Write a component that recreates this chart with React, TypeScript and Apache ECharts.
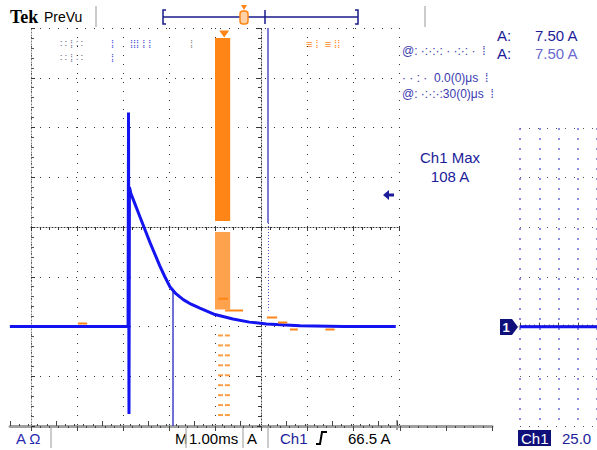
import React, { useEffect, useRef } from "react";
import * as echarts from "echarts";

// Ch1 current waveform (time in ms from left graticule edge, current in A)
const timeMs = [-0.46, 0.5, 1.0, 1.5, 2.11, 2.12, 2.13, 2.14, 2.17, 2.27, 2.37, 2.48, 2.59, 2.7, 2.8, 2.91, 3.02, 3.15, 3.31, 3.48, 3.67, 4.0, 4.39, 4.75, 5.12, 5.85, 6.8, 7.93];
const currentA = [0, 0, 0, 0, 0, 107.5, -44, 70, 67, 61, 55, 48.5, 42, 36, 30.5, 25, 20, 16.5, 13.5, 11.2, 9.2, 6, 3.8, 2.2, 1.3, 0.4, 0, 0];

// right-hand fragment of the trace
const rightT = [0, 4];
const rightA = [0, 0];

// orange glitch band (ms, A)
const bandT = [4.0, 4.33];
const bandUpperA = [145, 53];
const bandLowerA = [47.5, 8.5];
const orangeDashT = [4.12, 4.27];
const orangeDashA = [-4.5, -9.5, -14.5, -19.5, -24.5, -29.5, -34.5, -39.5, -44.5];
const orangeSegStart = [1.02, 4.07, 4.22, 5.13, 5.37, 5.63, 6.4];
const orangeSegEnd = [1.22, 4.28, 4.61, 5.35, 5.57, 5.8, 6.6];
const orangeSegA = [1.5, 14, 8, 4.5, 2, -1.5, -1.5];

// cursor lines (ms)
const cursorT = [5.15, 3.09];

const readouts = {
  deltaLabel: "A:",
  deltaValue: "7.50 A",
  maxTitle: "Ch1 Max",
  maxValue: "108 A",
  timebase: "1.00ms",
  trigLevel: "66.5 A",
  ch1Scale: "25.0",
};

const NAVY = "#1c1c9a";
const BLUE = "#1414f0";
const ORANGE = "#ff8616";
const DOT = [1, 8];

export default function App() {
  const ref = useRef<HTMLDivElement>(null);
  useEffect(() => {
    if (!ref.current) return;
    const chart = echarts.init(ref.current, null, { renderer: "svg" });
    const wave = timeMs.map((t, i) => [t, currentA[i]]);
    const dashPts: number[][] = [];
    orangeDashT.forEach((t) => orangeDashA.forEach((a) => dashPts.push([t, a])));
    const segPts: any[] = [];
    orangeSegStart.forEach((t, i) => {
      segPts.push([t, orangeSegA[i]], [orangeSegEnd[i], orangeSegA[i]], null);
    });
    const sans = '"Liberation Sans", Arial, sans-serif';
    const txt = (x: number, y: number, text: string, fill: string, size = 15, extra: any = {}) => ({
      type: "text",
      x,
      y,
      style: { text, fill, font: `${size}px ${sans}`, align: "left", verticalAlign: "top", ...extra },
    });
    const vline = (x: number, y1: number, y2: number, stroke = "#bbbbbb", w = 1.5) => ({
      type: "line",
      shape: { x1: x, y1, x2: x, y2 },
      style: { stroke, lineWidth: w },
    });

    const graphic: any[] = [
      { type: "text", x: 10, y: 8, style: { text: "Tek", fill: "#000", font: 'bold 18px "Liberation Serif", serif', align: "left", verticalAlign: "top" } },
      txt(44, 10, "PreVu", "#000", 14),
      vline(96, 6, 27),
      { type: "line", shape: { x1: 163, y1: 17, x2: 358, y2: 17 }, style: { stroke: "#1a1a8a", lineWidth: 1.5 } },
      { type: "polyline", shape: { points: [[166, 10], [163, 10], [163, 24], [166, 24]] }, style: { stroke: "#1a1a8a", lineWidth: 1.5, fill: "none" } },
      { type: "polyline", shape: { points: [[355, 10], [358, 10], [358, 24], [355, 24]] }, style: { stroke: "#1a1a8a", lineWidth: 1.5, fill: "none" } },
      vline(265, 10, 24, "#1a1a8a", 1.5),
      { type: "rect", shape: { x: 240, y: 11, width: 8, height: 13, r: 3 }, style: { fill: "#ffd2a6", stroke: ORANGE, lineWidth: 1.5 } },
      { type: "polygon", shape: { points: [[241, 5], [247, 5], [244, 10]] }, style: { fill: ORANGE } },
      vline(425, 6, 27),
      // glitch speckles upper-left
      txt(60, 38, "∷ ⁞ ∷", "#7a7a9a", 11),
      txt(111, 38, "⁞", "#4a4ad0", 11),
      txt(130, 38, "⁞⁞⁞ ⁞ ⁞", "#4a4ad0", 11),
      txt(190, 38, "⁞", "#888", 11),
      txt(60, 52, "∷ ⁞ ∷", "#7a7a9a", 11),
      txt(111, 52, "⁞", "#4a4ad0", 11),
      txt(306, 38, "≡ ⁞  ≡ ⁞⁞", ORANGE, 11),
      // readouts
      txt(497, 28, readouts.deltaLabel, NAVY, 15),
      txt(535, 28, readouts.deltaValue, NAVY, 15),
      txt(497, 46, readouts.deltaLabel, NAVY, 15),
      txt(535, 46, readouts.deltaValue, "#6a6ad0", 15),
      txt(402, 45, "@: ·:·:·: · ·:·: ·  ⁞", "#3a3ab0", 12),
      txt(402, 72, "· · : ·  0.0(0)μs  ⁞", "#3a3ab0", 12),
      txt(402, 88, "@: ·:·:·:30(0)μs  ⁞", "#3a3ab0", 12),
      { type: "text", x: 450, y: 150, style: { text: readouts.maxTitle, fill: NAVY, font: `15px ${sans}`, align: "center", verticalAlign: "top" } },
      { type: "text", x: 450, y: 169, style: { text: readouts.maxValue, fill: NAVY, font: `15px ${sans}`, align: "center", verticalAlign: "top" } },
      { type: "polygon", shape: { points: [[383, 195], [389, 190], [389, 193.5], [394, 193.5], [394, 196.5], [389, 196.5], [389, 200]] }, style: { fill: NAVY } },
      // channel 1 ground marker
      { type: "polygon", shape: { points: [[500, 319], [512, 319], [518, 327], [512, 335], [500, 335]] }, style: { fill: "#10107a" } },
      { type: "text", x: 506, y: 327, style: { text: "1", fill: "#fff", font: `bold 13px ${sans}`, align: "center", verticalAlign: "middle" } },
      // bottom status bar
      txt(16, 431, "A Ω", "#2a2ab0", 15),
      vline(51, 428, 448),
      txt(175, 431, "M", "#000", 15),
      vline(186, 428, 448),
      txt(189, 431, readouts.timebase, "#000", 15),
      vline(243, 428, 448),
      txt(247, 431, "A", "#000", 15),
      vline(268, 428, 448),
      txt(280, 431, "Ch1", NAVY, 15),
      { type: "polyline", shape: { points: [[316, 444], [320, 444], [322, 432], [327, 432]] }, style: { stroke: "#000", lineWidth: 2, fill: "none" } },
      txt(348, 431, readouts.trigLevel, "#000", 15),
      vline(397, 420, 430, "#444", 1),
      { type: "rect", shape: { x: 518, y: 430, width: 33, height: 16 }, style: { fill: "#10107a" } },
      txt(521, 431, "Ch1", "#fff", 15),
      txt(562, 431, readouts.ch1Scale, NAVY, 15),
    ];

    const hiddenY = (gi: number) => ({ gridIndex: gi, type: "value", min: 0, max: 1, show: false });

    chart.setOption({
      animation: false,
      backgroundColor: "#ffffff",
      grid: [
        { left: 31, top: 28, width: 368, height: 398 },
        { left: 31, top: 28, width: 461, height: 398 },
        { left: 10, top: 28, width: 387, height: 398 },
        { left: 520, top: 128, width: 77, height: 298 },
        { left: 8, top: 28, width: 391, height: 398 },
      ],
      xAxis: [
        {
          gridIndex: 0, type: "value", min: 0, max: 8, interval: 1,
          axisLine: { show: false }, axisTick: { show: false }, axisLabel: { show: false },
          splitLine: { show: true, lineStyle: { color: "#333", type: DOT, width: 1 } },
        },
        {
          gridIndex: 0, type: "value", min: 0, max: 8, interval: 1, position: "bottom", offset: -199,
          axisLine: { show: true, onZero: false, lineStyle: { color: "#333", type: [1, 2], width: 1 } },
          axisTick: { show: true, length: 4, lineStyle: { color: "#333" } },
          minorTick: { show: true, splitNumber: 5, length: 3, lineStyle: { color: "#333" } },
          axisLabel: { show: false }, splitLine: { show: false },
        },
        {
          gridIndex: 1, type: "value", min: 0, max: 10, interval: 1, position: "top",
          axisLine: { show: true, lineStyle: { color: "#a0a0a0", width: 3 } },
          axisTick: { show: true, inside: true, length: 5, lineStyle: { color: "#444" } },
          minorTick: { show: true, splitNumber: 5, length: 2, lineStyle: { color: "#444" } },
          axisLabel: { show: false }, splitLine: { show: false },
        },
        {
          gridIndex: 2, type: "value", min: 0, max: 8.4, interval: 1, position: "bottom",
          axisLine: { show: true, lineStyle: { color: "#a0a0a0", width: 3 } },
          axisTick: { show: true, inside: true, length: 5, lineStyle: { color: "#444" } },
          minorTick: { show: true, splitNumber: 5, length: 2, lineStyle: { color: "#444" } },
          axisLabel: { show: false }, splitLine: { show: false },
        },
        {
          gridIndex: 3, type: "value", min: 0, max: 4, interval: 1, position: "bottom",
          axisLine: { show: true, lineStyle: { color: "#a0a0a0", width: 3 } },
          axisTick: { show: true, inside: true, length: 4, lineStyle: { color: "#444" } },
          minorTick: { show: true, splitNumber: 4, length: 2, lineStyle: { color: "#444" } },
          axisLabel: { show: false },
          splitLine: { show: true, lineStyle: { color: "#6a6ad8", type: [2, 8], width: 1.5 } },
        },
        { gridIndex: 4, type: "value", min: -0.5, max: 8, show: false },
      ],
      yAxis: [
        {
          gridIndex: 0, type: "value", min: -50, max: 150, interval: 25,
          axisLine: { show: true, lineStyle: { color: "#777", type: [1, 2], width: 1 } },
          axisTick: { show: true, inside: true, length: 4, lineStyle: { color: "#333" } },
          minorTick: { show: true, splitNumber: 5, length: 3, lineStyle: { color: "#555" } },
          axisLabel: { show: false },
          splitLine: { show: true, lineStyle: { color: "#333", type: DOT, width: 1 } },
        },
        {
          gridIndex: 0, type: "value", min: -50, max: 150, interval: 25, position: "left", offset: -230,
          axisLine: { show: true, onZero: false, lineStyle: { color: "#444", type: [1, 2], width: 1 } },
          axisTick: { show: true, length: 4, lineStyle: { color: "#333" } },
          minorTick: { show: true, splitNumber: 5, length: 3, lineStyle: { color: "#333" } },
          axisLabel: { show: false }, splitLine: { show: false },
        },
        hiddenY(1),
        hiddenY(2),
        {
          gridIndex: 3, type: "value", min: -50, max: 100, interval: 25,
          axisLine: { show: false }, axisTick: { show: false }, axisLabel: { show: false },
          splitLine: { show: true, lineStyle: { color: "#555", type: DOT, width: 1 } },
        },
        { gridIndex: 4, type: "value", min: -50, max: 150, show: false },
      ],
      series: [
        {
          name: "Ch1",
          type: "line",
          xAxisIndex: 5,
          yAxisIndex: 5,
          data: wave,
          symbol: "none",
          z: 5,
          lineStyle: { color: BLUE, width: 3 },
          markArea: {
            silent: true,
            data: [
              [{ coord: [bandT[0], bandUpperA[0]], itemStyle: { color: ORANGE, opacity: 1 } }, { coord: [bandT[1], bandUpperA[1]] }],
              [{ coord: [bandT[0], bandLowerA[0]], itemStyle: { color: "#ffa24d", opacity: 1 } }, { coord: [bandT[1], bandLowerA[1]] }],
            ],
          },
          markPoint: {
            silent: true,
            data: [{ coord: [4.2, 147], symbol: "triangle", symbolRotate: 180, symbolSize: [10, 7], itemStyle: { color: ORANGE } }],
            label: { show: false },
          },
          markLine: {
            silent: true,
            symbol: "none",
            label: { show: false },
            data: [
              [{ coord: [cursorT[0], 150], lineStyle: { color: "#5050c8", width: 1.5, type: "solid" } }, { coord: [cursorT[0], 52] }],
              [{ coord: [cursorT[0], 52], lineStyle: { color: "#5050c8", width: 1, type: [1, 2] } }, { coord: [cursorT[0], 8] }],
              [{ coord: [cursorT[1], 18.6], lineStyle: { color: "#4040c8", width: 1.5, type: "solid" } }, { coord: [cursorT[1], -50] }],
            ],
          },
        },
        {
          name: "OrangeDash",
          type: "scatter",
          xAxisIndex: 5,
          yAxisIndex: 5,
          data: dashPts,
          symbol: "rect",
          symbolSize: [5, 2],
          itemStyle: { color: ORANGE },
          silent: true,
        },
        {
          name: "OrangeSteps",
          type: "line",
          xAxisIndex: 5,
          yAxisIndex: 5,
          data: segPts,
          connectNulls: false,
          symbol: "none",
          z: 6,
          lineStyle: { color: ORANGE, width: 2 },
        },
        {
          name: "Ch1 right",
          type: "line",
          xAxisIndex: 4,
          yAxisIndex: 4,
          data: rightT.map((t, i) => [t, rightA[i]]),
          clip: false,
          symbol: "none",
          lineStyle: { color: BLUE, width: 3 },
        },
      ],
      graphic,
    });
    return () => chart.dispose();
  }, []);
  return <div ref={ref} style={{ position: "fixed", left: 0, top: 0, width: 597, height: 450, background: "#fff" }} />;
}
